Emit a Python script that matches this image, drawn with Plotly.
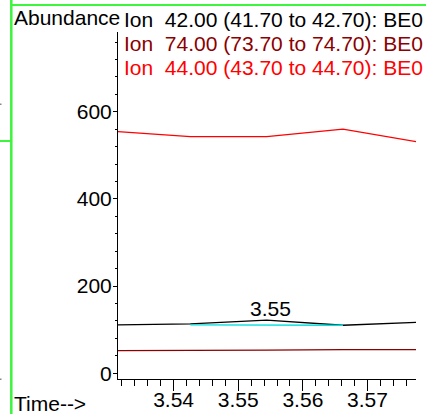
import plotly.graph_objects as go

# ---- data ----
times = [3.5308, 3.5426, 3.5544, 3.5662, 3.5780]
ion42 = [111, 113, 122, 110, 117]
ion74 = [52, 52, 53, 54, 54]
ion44 = [555, 543, 543, 560, 530]
baseline_t = [3.5426, 3.5662]
baseline_y = [111, 110]
peak_time = 3.555
peak_abund = 122
ion_labels = [
    "Ion \u00a042.00 (41.70 to 42.70): BE0",
    "Ion \u00a074.00 (73.70 to 74.70): BE0",
    "Ion \u00a044.00 (43.70 to 44.70): BE0",
]
ion_colors = ["#000000", "#8b0000", "#ff0000"]
x_range = [3.5314, 3.5775]
y_range = [-13.3, 783]

W, H = 426, 414
L, R, T, B = 118, 416, 32, 379
FONT = "Liberation Sans, Arial, sans-serif"
FS = 21


def px_x(p):
    return (p - L) / (R - L)


def px_y(p):
    return (B - p) / (B - T)


fig = go.Figure()
fig.add_trace(go.Scatter(x=times, y=ion44, mode="lines",
                         line=dict(color=ion_colors[2], width=1.3), hoverinfo="skip"))
fig.add_trace(go.Scatter(x=times, y=ion74, mode="lines",
                         line=dict(color=ion_colors[1], width=1.3), hoverinfo="skip"))
fig.add_trace(go.Scatter(x=times, y=ion42, mode="lines",
                         line=dict(color=ion_colors[0], width=1.3), hoverinfo="skip"))
fig.add_trace(go.Scatter(x=baseline_t, y=baseline_y, mode="lines",
                         line=dict(color="#00dede", width=1.3), hoverinfo="skip"))

ann = []
ann.append(dict(x=peak_time, y=peak_abund, xref="x", yref="y", text="3.55",
                showarrow=False, xanchor="center", yanchor="bottom", yshift=-2,
                font=dict(family=FONT, size=FS, color="black")))
ann.append(dict(x=px_x(12), y=px_y(17.5), xref="paper", yref="paper", text="Abundance",
                showarrow=False, xanchor="left", yanchor="middle",
                font=dict(family=FONT, size=FS, color="black")))
ann.append(dict(x=px_x(12), y=px_y(403), xref="paper", yref="paper", text="Time-->",
                showarrow=False, xanchor="left", yanchor="middle",
                font=dict(family=FONT, size=FS, color="black")))
for i, (lab, col) in enumerate(zip(ion_labels, ion_colors)):
    ann.append(dict(x=px_x(122), y=px_y(19.5 + 24.2 * i), xref="paper", yref="paper",
                    text=lab, showarrow=False, xanchor="left", yanchor="middle",
                    font=dict(family=FONT, size=FS, color=col)))

green = "#3cf53c"
shapes = [
    dict(type="line", xref="paper", yref="paper", x0=px_x(11.3), x1=px_x(11.3),
         y0=px_y(0), y1=px_y(H), line=dict(color=green, width=2.5)),
    dict(type="line", xref="paper", yref="paper", x0=px_x(11), x1=px_x(W),
         y0=px_y(5), y1=px_y(5), line=dict(color=green, width=2)),
    dict(type="line", xref="paper", yref="paper", x0=px_x(0), x1=px_x(11),
         y0=px_y(141), y1=px_y(141), line=dict(color=green, width=2)),
    dict(type="rect", xref="paper", yref="paper", x0=px_x(0), x1=px_x(1.5),
         y0=px_y(103.5), y1=px_y(105), line=dict(width=0), fillcolor="#888888"),
    dict(type="rect", xref="paper", yref="paper", x0=px_x(0), x1=px_x(1.5),
         y0=px_y(378.5), y1=px_y(380), line=dict(width=0), fillcolor="#888888"),
]

fig.update_layout(
    width=W, height=H,
    margin=dict(l=L, r=W - R, t=T, b=H - B, pad=0, autoexpand=False),
    paper_bgcolor="white", plot_bgcolor="white",
    showlegend=False,
    font=dict(family=FONT, size=FS, color="black"),
    annotations=ann,
    shapes=shapes,
)
fig.update_xaxes(
    automargin=False,
    range=x_range, showgrid=False, zeroline=False,
    showline=True, linecolor="black", linewidth=1,
    ticks="outside", ticklen=11, tickcolor="black", tickwidth=1,
    ticklabelstandoff=-9,
    dtick=0.01, tick0=3.5, tickformat=".2f",
    tickfont=dict(family=FONT, size=FS, color="black"),
    minor=dict(dtick=0.002, tick0=3.5, ticks="outside", ticklen=6,
               tickcolor="black", tickwidth=1),
)
fig.update_yaxes(
    automargin=False,
    range=y_range, showgrid=False, zeroline=False,
    showline=True, linecolor="black", linewidth=1,
    ticks="outside", ticklen=4, tickcolor="black", tickwidth=1,
    ticklabelstandoff=-3,
    dtick=200, tick0=0,
    tickfont=dict(family=FONT, size=FS, color="black"),
    minor=dict(dtick=40, tick0=0, ticks="outside", ticklen=2,
               tickcolor="black", tickwidth=1),
)

fig.write_html(
    "out.html",
    config={"displayModeBar": False, "staticPlot": True},
    post_script="document.body.style.margin='0';",
)
